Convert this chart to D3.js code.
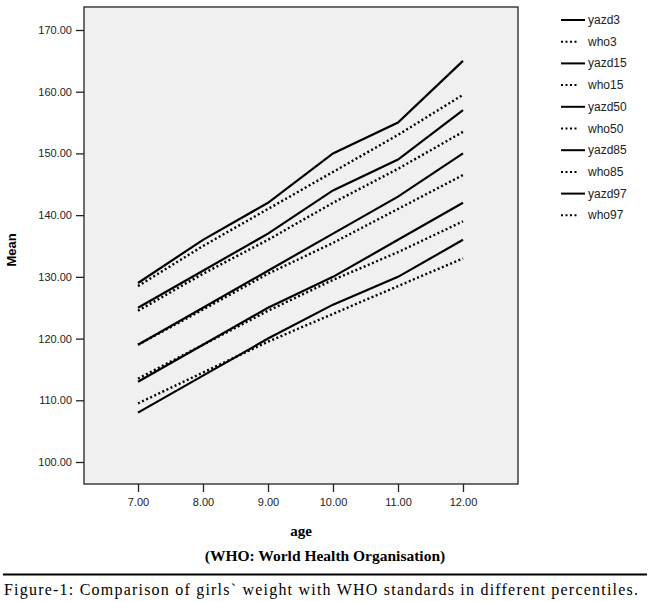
<!DOCTYPE html>
<html><head><meta charset="utf-8">
<script src="https://cdn.jsdelivr.net/npm/d3@7"></script>
<style>body{margin:0;background:#fff}svg{display:block}</style>
</head><body>
<svg id="c" width="650" height="602"></svg>
<script>
const ages = [7, 8, 9, 10, 11, 12];
const yazd3  = [108, 114, 120, 125.5, 130, 136];
const who3   = [109.5, 114.5, 119.5, 124, 128.5, 133];
const yazd15 = [113, 119, 125, 130, 136, 142];
const who15  = [113.5, 119, 124.5, 129.5, 134, 139];
const yazd50 = [119, 125, 131, 137, 143, 150];
const who50  = [119, 124.7, 130.5, 135.5, 141, 146.5];
const yazd85 = [125, 131, 137, 144, 149, 157];
const who85  = [124.5, 130.5, 136, 142, 147.5, 153.5];
const yazd97 = [129, 136, 142, 150, 155, 165];
const who97  = [128.5, 135, 141, 147, 153, 159.5];
const seriesNames = ["yazd3","who3","yazd15","who15","yazd50","who50","yazd85","who85","yazd97","who97"];
const seriesValues = [yazd3, who3, yazd15, who15, yazd50, who50, yazd85, who85, yazd97, who97];
const xTicks = [7, 8, 9, 10, 11, 12];
const yTicks = [100, 110, 120, 130, 140, 150, 160, 170];

const svg = d3.select("#c");
const L = 84, T = 7, R = 518, B = 484;
const x = d3.scaleLinear().domain([7, 12]).range([138, 463]);
const y = d3.scaleLinear().domain([100, 170]).range([462, 30]);

svg.append("rect").attr("x", L).attr("y", T).attr("width", R - L).attr("height", B - T)
  .attr("fill", "#f0f0f0").attr("stroke", "#222").attr("stroke-width", 1.3);

const yAxis = svg.append("g").attr("transform", `translate(${L},0)`)
  .call(d3.axisLeft(y).tickValues(yTicks).tickFormat(d3.format(".2f")).tickSize(8).tickPadding(4));
yAxis.select(".domain").remove();
yAxis.selectAll("text").attr("font-family", "Liberation Sans, Arial, sans-serif").attr("font-size", 11).attr("fill", "#222");
yAxis.selectAll("line").attr("stroke", "#222").attr("stroke-width", 1.3);

const xAxis = svg.append("g").attr("transform", `translate(0,${B})`)
  .call(d3.axisBottom(x).tickValues(xTicks).tickFormat(d3.format(".2f")).tickSize(8).tickPadding(6));
xAxis.select(".domain").remove();
xAxis.selectAll("text").attr("font-family", "Liberation Sans, Arial, sans-serif").attr("font-size", 11).attr("fill", "#222");
xAxis.selectAll("line").attr("stroke", "#222").attr("stroke-width", 1.3);

const line = d3.line().x((d, i) => x(ages[i])).y(d => y(d));
seriesValues.forEach((vals, k) => {
  const dotted = seriesNames[k].startsWith("who");
  svg.append("path").datum(vals).attr("d", line).attr("fill", "none")
    .attr("stroke", "#000").attr("stroke-width", dotted ? 2.4 : 2.2)
    .attr("stroke-dasharray", dotted ? "2,2.5" : null);
});

// legend
seriesNames.forEach((n, k) => {
  const yy = 20 + k * 21.7;
  const dotted = n.startsWith("who");
  svg.append("line").attr("x1", 561).attr("x2", dotted ? 577 : 585).attr("y1", yy).attr("y2", yy)
    .attr("stroke", "#000").attr("stroke-width", 2)
    .attr("stroke-dasharray", dotted ? "2,2.5" : null);
  svg.append("text").attr("x", 588).attr("y", yy + 4).text(n)
    .attr("font-family", "Liberation Sans, Arial, sans-serif").attr("font-size", 12).attr("fill", "#222");
});

svg.append("text").attr("transform", "translate(16,250) rotate(-90)").attr("text-anchor", "middle")
  .attr("font-family", "Liberation Sans, Arial, sans-serif").attr("font-weight", "bold").attr("font-size", 13).text("Mean");
svg.append("text").attr("x", 301).attr("y", 536).attr("text-anchor", "middle")
  .attr("font-family", "Liberation Serif, Times New Roman, serif").attr("font-weight", "bold").attr("font-size", 15).text("age");
svg.append("text").attr("x", 325).attr("y", 561).attr("text-anchor", "middle")
  .attr("font-family", "Liberation Serif, Times New Roman, serif").attr("font-weight", "bold").attr("font-size", 15.5).text("(WHO: World Health Organisation)");
svg.append("line").attr("x1", 3).attr("x2", 647).attr("y1", 574.5).attr("y2", 574.5).attr("stroke", "#000").attr("stroke-width", 2.2);
svg.append("text").attr("x", 4).attr("y", 595).attr("textLength", 634)
  .attr("font-family", "Liberation Serif, Times New Roman, serif").attr("font-size", 16).text("Figure-1: Comparison of girls` weight with WHO standards in different percentiles.");
</script>
</body></html>
